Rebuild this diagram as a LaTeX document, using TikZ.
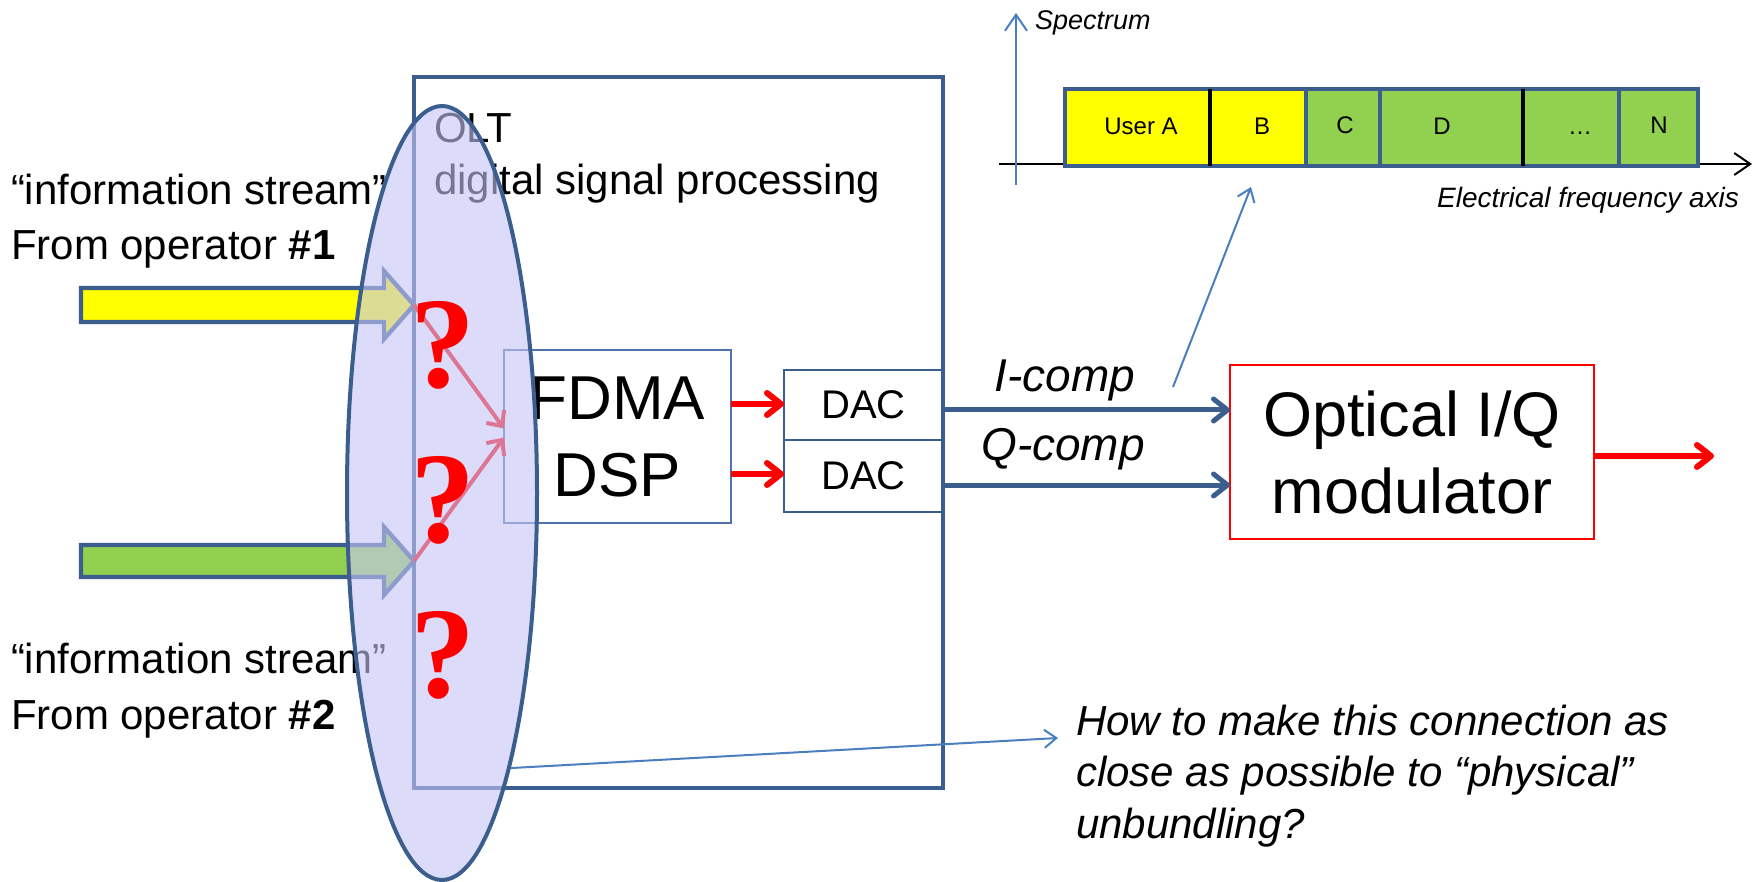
\documentclass[tikz,border=0pt]{standalone}
\usepackage{fontspec}
\setmainfont{Liberation Sans}
\newfontfamily\qmarkfont{Liberation Serif}
\usetikzlibrary{arrows.meta,shapes.geometric,calc}
\definecolor{dkblue}{RGB}{59,94,142}
\definecolor{boxblue}{RGB}{79,114,170}
\definecolor{ltblue}{RGB}{74,126,190}
\definecolor{lav}{RGB}{198,198,247}
\definecolor{specgreen}{RGB}{146,208,80}
\definecolor{specyellow}{RGB}{255,255,0}
\newcommand{\lblfont}{\fontsize{21}{25}\selectfont}
\newcommand{\iqfont}{\fontsize{23}{27}\selectfont\itshape}
\newcommand{\seglblfont}{\fontsize{12}{14}\selectfont}
\begin{document}
\begin{tikzpicture}[x=0.5pt,y=-0.5pt,
  txt/.style={inner sep=0pt, outer sep=0pt},
  procbox/.style={inner sep=0pt, outer sep=0pt, align=center},
  blockarrow/.style={draw=dkblue, line width=2.2pt, line join=miter},
  redarrow/.style={draw=red, line width=3pt, -{Straight Barb[length=7pt,width=11pt,round]}},
  iqarrow/.style={draw=dkblue, line width=2.5pt, -{Straight Barb[length=7pt,width=11pt,round]}},
  pinkarrow/.style={draw=red, line width=2pt, -{Straight Barb[length=6pt,width=11pt]}},
  thinarrow/.style={draw=ltblue, line width=1pt, -{Straight Barb[length=6pt,width=9pt]}},
  seg/.style={draw=dkblue, line width=2pt, minimum height=38.5pt, inner sep=0pt, outer sep=0pt},
  qmark/.style={txt, anchor=base, text=red, font={\qmarkfont\bfseries\fontsize{65}{70}\selectfont}}]
\path[use as bounding box, fill=white] (0,0) rectangle (1758,882);

% OLT frame and its title
\node[draw=dkblue, line width=1.8pt, minimum width=264.5pt, minimum height=355.5pt, inner sep=0pt, outer sep=0pt] (olt) at (678.5,432.5) {};
\node[txt, anchor=base west, font=\lblfont] (oltname) at (434,143) {OLT};
\node[txt, anchor=base west, font=\lblfont] (oltdsp) at (434,195) {digital signal processing};

% processing blocks
\node[procbox, draw=boxblue, line width=0.8pt, minimum width=113.5pt, minimum height=86.5pt, font=\fontsize{31}{38.5}\selectfont] (fdma) at (617.5,436.5) {FDMA\\DSP};
\node[procbox, draw=dkblue, line width=0.9pt, minimum width=79.5pt, minimum height=35pt, font=\fontsize{20}{24}\selectfont] (dac1) at (863.5,405) {DAC};
\node[procbox, draw=dkblue, line width=0.9pt, minimum width=79.5pt, minimum height=36pt, font=\fontsize{20}{24}\selectfont] (dac2) at (863.5,476) {DAC};
\node[procbox, draw=red, line width=1pt, minimum width=182pt, minimum height=87pt, font=\fontsize{31.5}{38.5}\selectfont] (opt) at (1412,452) {Optical I/Q\\modulator};

% FDMA to DACs
\coordinate (f1) at ($(fdma.east)+(0,-32.5)$);
\coordinate (f2) at ($(fdma.east)+(0,37.5)$);
\draw[redarrow] (f1) -- (f1 -| dac1.west);
\draw[redarrow] (f2) -- (f2 -| dac2.west);

% I and Q components to the modulator
\coordinate (i0) at ($(dac1.east)+(0,5)$);
\coordinate (q0) at ($(dac2.east)+(0,9)$);
\draw[iqarrow] (i0) -- (i0 -| opt.west);
\draw[iqarrow] (q0) -- (q0 -| opt.west);
\node[txt, anchor=base, font=\iqfont] (ilbl) at (1065,392) {I-comp};
\node[txt, anchor=base, font=\iqfont] (qlbl) at (1063,460) {Q-comp};

% optical output
\coordinate (out) at (1714,456);
\draw[redarrow] (opt.east |- out) -- (out);

% spectrum sketch
\coordinate (fa0) at (999,164);
\coordinate (fa1) at (1752,164);
\draw[black, line width=1pt, -{Straight Barb[length=8pt,width=11pt]}] (fa0) -- (fa1);
\coordinate (sa0) at (1016,185);
\coordinate (sa1) at (1016,13);
\draw[draw=ltblue, line width=1pt, -{Straight Barb[length=8pt,width=11pt]}] (sa0) -- (sa1);
\node[seg, fill=specyellow, minimum width=72.5pt] (sA) at (1137.5,127.5) {};
\node[seg, fill=specyellow, minimum width=48pt] (sB) at (1258,127.5) {};
\node[seg, fill=specgreen, minimum width=37pt] (sC) at (1343,127.5) {};
\node[seg, fill=specgreen, minimum width=71.5pt] (sD) at (1451.5,127.5) {};
\node[seg, fill=specgreen, minimum width=48pt] (sE) at (1571,127.5) {};
\node[seg, fill=specgreen, minimum width=39.5pt] (sN) at (1658.5,127.5) {};
\draw[black, line width=2pt] (sA.north east) -- (sA.south east);
\draw[black, line width=2pt] (sD.north east) -- (sD.south east);
\node[txt, anchor=base, font=\seglblfont] (lA) at (1141,135) {User A};
\node[txt, anchor=base, font=\seglblfont] (lB) at (1262,135) {B};
\node[txt, anchor=base, font=\seglblfont] (lC) at (1345,134) {C};
\node[txt, anchor=base, font=\seglblfont] (lD) at (1442,135) {D};
\node[txt, anchor=base, font=\seglblfont] (lE) at (1580,135) {…};
\node[txt, anchor=base, font=\seglblfont] (lN) at (1659,134) {N};
\node[txt, anchor=base west, font=\fontsize{13.5}{15}\selectfont\itshape] (spec) at (1035,30) {Spectrum};
\node[txt, anchor=base east, font=\fontsize{14}{16}\selectfont\itshape] (faxis) at (1739,208) {Electrical frequency axis};
\coordinate (p0) at (1173,387);
\coordinate (p1) at (1251,187);
\draw[thinarrow] (p0) -- (p1);

% incoming information streams
\coordinate (ytip) at (414,305);
\coordinate (gtip) at (414,561);
\draw[blockarrow, fill=specyellow] (81,288) -- (384,288) -- (384,271) -- (ytip) -- (384,339) -- (384,322) -- (81,322) -- cycle;
\draw[blockarrow, fill=specgreen] (81,545) -- (384,545) -- (384,527) -- (gtip) -- (384,595) -- (384,577) -- (81,577) -- cycle;
\draw[pinkarrow] (ytip) -- ($(fdma.west)+(0,-8)$);
\draw[pinkarrow] (gtip) -- ($(fdma.west)+(0,1)$);
\node[txt, anchor=base west, font=\lblfont] (s1a) at (11,205) {“information stream”};
\node[txt, anchor=base west, font=\lblfont] (s1b) at (11,260) {From operator {\bfseries\#1}};
\node[txt, anchor=base west, font=\lblfont] (s2a) at (11,673) {“information stream”};
\node[txt, anchor=base west, font=\lblfont] (s2b) at (11,729) {From operator {\bfseries\#2}};

% translucent grouping ellipse over the interface
\node[ellipse, draw=dkblue, line width=2pt, fill=lav, fill opacity=0.6, minimum width=95pt, minimum height=387pt, inner sep=0pt] (grp) at (442,493) {};
\node[qmark] (qm1) at (443,388) {?};
\node[qmark] (qm2) at (443,542) {?};
\node[qmark] (qm3) at (443,697) {?};

% open question
\coordinate (qend) at (1058,738);
\draw[thinarrow] (grp.-76.3) -- (qend);
\node[txt, anchor=base west, align=left, font=\fontsize{21}{25.75}\selectfont\itshape] (quest) at (1076,838) {How to make this connection as\\close as possible to “physical”\\unbundling?};
\end{tikzpicture}
\end{document}
